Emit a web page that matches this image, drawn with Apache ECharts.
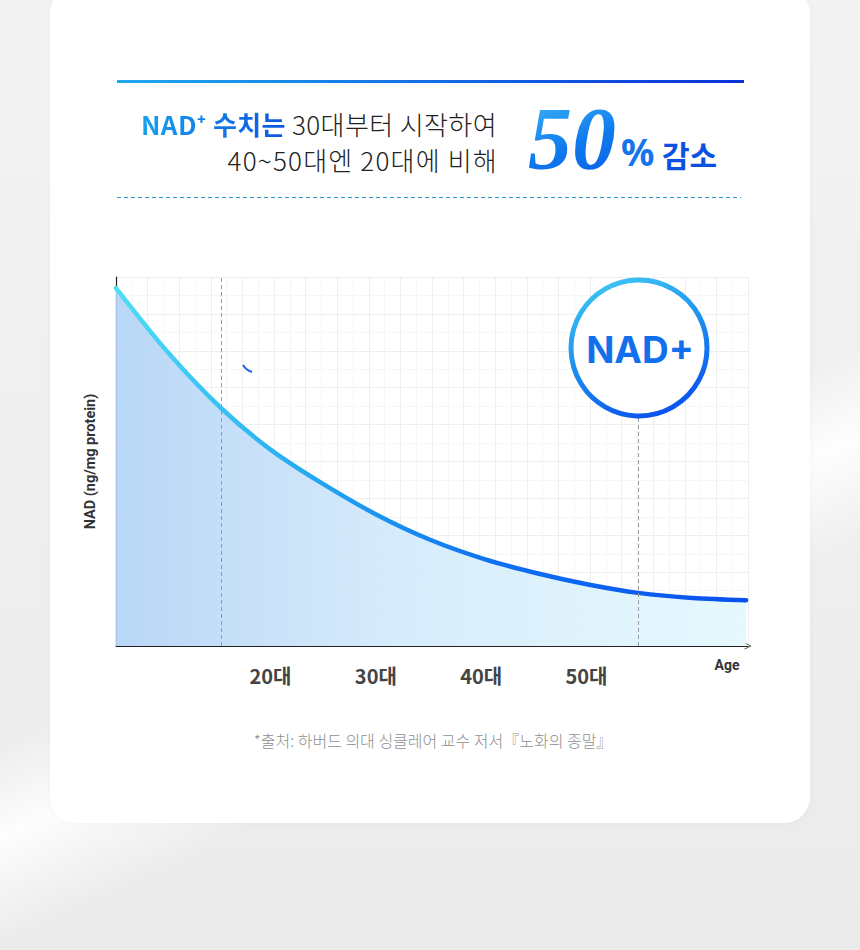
<!DOCTYPE html>
<html><head><meta charset="utf-8">
<script src="https://cdn.jsdelivr.net/npm/echarts@6/dist/echarts.min.js"></script>
<style>
html,body{margin:0;padding:0;width:860px;height:950px;overflow:hidden;}
body{position:relative;font-family:'Noto Sans CJK KR','Noto Sans',sans-serif;
 background:
  linear-gradient(155deg, rgba(255,255,255,0) 0%, rgba(255,255,255,0) 55%, rgba(255,255,255,0.9) 62%, rgba(255,255,255,0) 70%),
  linear-gradient(180deg,#f3f3f3 0%,#eeeeee 60%,#ebebeb 100%);}
.card{position:absolute;left:50px;top:-12px;width:760px;height:835px;background:#fff;border-radius:26px;box-shadow:0 0 10px rgba(0,0,0,0.03);}
.topline{position:absolute;left:117px;top:80px;width:627px;height:3px;background:linear-gradient(90deg,#1ea8ee,#0a32d8);}
.dash{position:absolute;left:117px;top:197px;width:624px;height:1px;background:repeating-linear-gradient(90deg,#2a9cc6 0 4px,transparent 4px 7px);}
.head{position:absolute;right:363px;top:106px;text-align:right;font-size:26px;line-height:36px;color:#222;font-weight:300;letter-spacing:0.4px;white-space:nowrap;}
.l2{letter-spacing:1.2px;margin-right:-1px;}
.blue{font-weight:700;background:linear-gradient(90deg,#1aa0ef,#0a55e0);-webkit-background-clip:text;background-clip:text;color:transparent;}
.big{position:absolute;left:528px;top:95px;font-family:'Liberation Serif','DejaVu Serif',serif;font-style:italic;font-weight:700;font-size:88px;line-height:88px;
 background:linear-gradient(160deg,#3fb8f6 0%,#0f7aee 55%,#0a5ee6 100%);-webkit-background-clip:text;background-clip:text;color:transparent;}
.pct{position:absolute;left:621px;top:133px;font-size:37px;line-height:37px;font-weight:700;color:#1474ee;font-family:'Noto Sans','Noto Sans CJK KR',sans-serif;}
.gam{position:absolute;left:662px;top:139px;font-size:30px;line-height:30px;font-weight:700;color:#0c52e2;}
.note{position:absolute;left:0;width:866px;top:730px;text-align:center;font-size:16px;line-height:20px;color:#8f8f8f;font-weight:300;}
#chart{position:absolute;left:0;top:0;width:860px;height:950px;}
</style></head>
<body>
<div class="card"></div>
<div class="topline"></div>
<div class="head"><span class="blue">NAD⁺ 수치는</span> 30대부터 시작하여<br><span class="l2">40~50대엔 20대에 비해</span></div>
<div class="big">50</div>
<div class="pct">%</div>
<div class="gam">감소</div>
<div class="dash"></div>
<div class="note">*출처: 하버드 의대 싱클레어 교수 저서『노화의 종말』</div>
<div id="chart"></div>
<script>
// Data (x: relative position along age axis 0-100, y: relative NAD level)
const ageX = [0, 8.3, 16.6, 24.4, 32.3, 41.0, 49.7, 58.4, 67.1, 74.9, 82.6, 91.2, 99.7];
const nadY = [97.0, 79.4, 64.5, 53.3, 44.4, 35.8, 28.8, 23.5, 19.5, 16.6, 14.4, 13.0, 12.4];
const decadeLabels = ['', '20대', '30대', '40대', '50대', ''];
const markerX = [16.6, 82.6];
const yAxisName = 'NAD (ng/mg protein)';
const xAxisName = 'Age';
const badgeText = 'NAD+';

const chart = echarts.init(document.getElementById('chart'), null, {renderer: 'svg'});
const points = ageX.map((x, i) => [x, nadY[i]]);
const lin = (x, y, x2, y2, stops) => new echarts.graphic.LinearGradient(x, y, x2, y2, stops.map((c, i) => ({offset: c[0], color: c[1]})));

chart.setOption({
  backgroundColor: 'transparent',
  animation: false,
  grid: {left: 116, right: 112, top: 277, bottom: 304, containLabel: false},
  xAxis: [{
    type: 'value', min: 0, max: 100, interval: 5,
    axisLine: {show: true, onZero: false, lineStyle: {color: '#222', width: 1.2},
      symbol: ['none', 'path://M0,10 L5,0 L10,10 L9,10 L5,2 L1,10 Z'], symbolSize: [12, 7]},
    axisTick: {show: false}, axisLabel: {show: false},
    splitLine: {show: true, lineStyle: {color: '#eeeeee', width: 1}},
    minorTick: {show: false, splitNumber: 2},
    minorSplitLine: {show: true, lineStyle: {color: '#f6f6f6', width: 1}}
  }, {
    type: 'category', data: decadeLabels, position: 'bottom', offset: 0,
    boundaryGap: true,
    axisLine: {show: false}, axisTick: {show: false}, splitLine: {show: false},
    axisLabel: {show: true, margin: 19, fontSize: 20, fontWeight: 'bold', color: '#444',
      fontFamily: "'Noto Sans CJK KR', sans-serif", padding: [0, 7, 0, 0]}
  }],
  yAxis: {
    type: 'value', min: 0, max: 100, interval: 10,
    name: yAxisName, nameLocation: 'middle', nameGap: 18,
    nameTextStyle: {fontSize: 14.5, fontWeight: 'bold', color: '#333', fontFamily: "Roboto, 'Noto Sans', sans-serif"},
    axisLine: {show: true, lineStyle: {color: '#222', width: 1.2}},
    axisTick: {show: false}, axisLabel: {show: false},
    splitLine: {show: true, lineStyle: {color: '#eeeeee', width: 1}},
    minorTick: {show: false, splitNumber: 2},
    minorSplitLine: {show: true, lineStyle: {color: '#f6f6f6', width: 1}}
  },
  series: [{
    type: 'line', xAxisIndex: 0, yAxisIndex: 0,
    data: points, smooth: 0.3, showSymbol: false, symbol: 'none',
    lineStyle: {width: 4.5, color: lin(0, 0, 1, 0, [[0, '#50def5'], [0.3, '#24aaf1'], [0.6, '#0e70f0'], [1, '#0a50ee']]), cap: 'round'},
    areaStyle: {opacity: 0.92, color: lin(0, 0, 1, 0, [[0, '#b3d3f6'], [0.45, '#d4ebfb'], [1, '#e4f8fe']])},
    markLine: {
      silent: true, symbol: 'none', label: {show: false},
      lineStyle: {type: [4, 3], color: '#9c9c9c', width: 1},
      data: markerX.map(v => ({xAxis: v}))
    },
    z: 3
  }],
  graphic: [
    {type: 'circle', shape: {cx: 639, cy: 348, r: 68}, z: 100,
     style: {fill: '#fff', lineWidth: 5,
       stroke: {type: 'linear', x: 0.2, y: 0, x2: 0.6, y2: 1, colorStops: [{offset: 0, color: '#3ec6f3'}, {offset: 0.5, color: '#1d8ff0'}, {offset: 1, color: '#0a55ee'}]}}},
    {type: 'text', z: 101, style: {text: badgeText, x: 640, y: 349, align: 'center', verticalAlign: 'middle',
       font: "bold 37px Inter, 'Noto Sans', sans-serif", fill: '#1270ec'}},
    {type: 'text', z: 101, style: {text: xAxisName, x: 727, y: 665, align: 'center', verticalAlign: 'middle',
       font: "bold 14px Roboto, 'Noto Sans', sans-serif", fill: '#333'}},
    {type: 'bezierCurve', z: 50, shape: {x1: 243, y1: 365, x2: 252, y2: 372, cpx1: 246, cpy1: 370},
     style: {stroke: '#1762e2', lineWidth: 2, fill: 'none'}}
  ]
});
</script>
</body></html>
